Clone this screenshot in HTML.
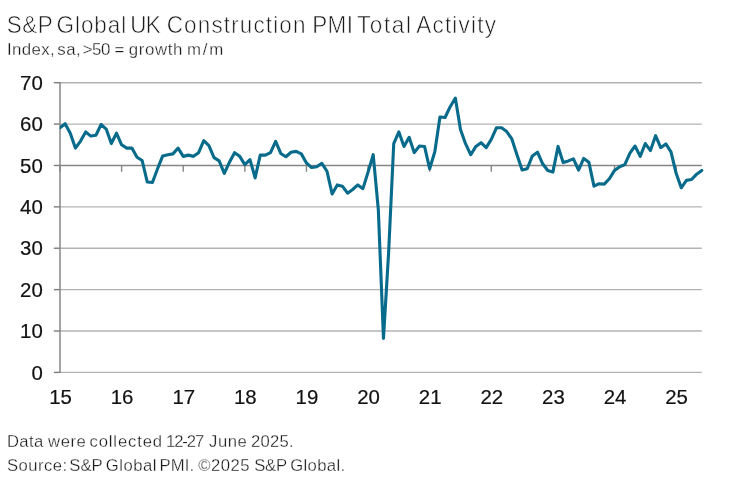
<!DOCTYPE html>
<html lang="en"><head><meta charset="utf-8"><title>S&amp;P Global UK Construction PMI Total Activity</title>
<style>
html,body{margin:0;padding:0;background:#fff;}
body{width:741px;height:486px;overflow:hidden;}
svg{display:block;}
svg text{font-family:"Liberation Sans",Arial,sans-serif;white-space:pre;}
.ax{font-size:20.4px;fill:#111;stroke:#111;stroke-width:0.2px;}
</style></head><body>
<svg width="741" height="486" viewBox="0 0 741 486">
<rect x="0" y="0" width="741" height="486" fill="#ffffff"/>
<g id="grid">
<line x1="60.0" y1="372.40" x2="701.8" y2="372.40" stroke="#b3b3b3" stroke-width="1.35"/>
<line x1="60.0" y1="331.01" x2="701.8" y2="331.01" stroke="#b3b3b3" stroke-width="1.35"/>
<line x1="60.0" y1="289.63" x2="701.8" y2="289.63" stroke="#b3b3b3" stroke-width="1.35"/>
<line x1="60.0" y1="248.24" x2="701.8" y2="248.24" stroke="#b3b3b3" stroke-width="1.35"/>
<line x1="60.0" y1="206.86" x2="701.8" y2="206.86" stroke="#b3b3b3" stroke-width="1.35"/>
<line x1="60.0" y1="124.09" x2="701.8" y2="124.09" stroke="#b3b3b3" stroke-width="1.35"/>
<line x1="60.0" y1="82.70" x2="701.8" y2="82.70" stroke="#b3b3b3" stroke-width="1.35"/>
</g><g id="axes">
<line x1="53.8" y1="372.40" x2="60.0" y2="372.40" stroke="#7c7c7c" stroke-width="1.4"/>
<line x1="53.8" y1="331.01" x2="60.0" y2="331.01" stroke="#7c7c7c" stroke-width="1.4"/>
<line x1="53.8" y1="289.63" x2="60.0" y2="289.63" stroke="#7c7c7c" stroke-width="1.4"/>
<line x1="53.8" y1="248.24" x2="60.0" y2="248.24" stroke="#7c7c7c" stroke-width="1.4"/>
<line x1="53.8" y1="206.86" x2="60.0" y2="206.86" stroke="#7c7c7c" stroke-width="1.4"/>
<line x1="53.8" y1="165.47" x2="60.0" y2="165.47" stroke="#7c7c7c" stroke-width="1.4"/>
<line x1="53.8" y1="124.09" x2="60.0" y2="124.09" stroke="#7c7c7c" stroke-width="1.4"/>
<line x1="53.8" y1="82.70" x2="60.0" y2="82.70" stroke="#7c7c7c" stroke-width="1.4"/>
<line x1="60.0" y1="82.10" x2="60.0" y2="373.00" stroke="#868686" stroke-width="1.5"/>
<line x1="60.0" y1="165.47" x2="701.8" y2="165.47" stroke="#868686" stroke-width="1.4"/>
<line x1="60.00" y1="165.47" x2="60.00" y2="171.77" stroke="#868686" stroke-width="1.4"/>
<line x1="121.61" y1="165.47" x2="121.61" y2="171.77" stroke="#868686" stroke-width="1.4"/>
<line x1="183.23" y1="165.47" x2="183.23" y2="171.77" stroke="#868686" stroke-width="1.4"/>
<line x1="244.84" y1="165.47" x2="244.84" y2="171.77" stroke="#868686" stroke-width="1.4"/>
<line x1="306.45" y1="165.47" x2="306.45" y2="171.77" stroke="#868686" stroke-width="1.4"/>
<line x1="368.06" y1="165.47" x2="368.06" y2="171.77" stroke="#868686" stroke-width="1.4"/>
<line x1="429.68" y1="165.47" x2="429.68" y2="171.77" stroke="#868686" stroke-width="1.4"/>
<line x1="491.29" y1="165.47" x2="491.29" y2="171.77" stroke="#868686" stroke-width="1.4"/>
<line x1="552.90" y1="165.47" x2="552.90" y2="171.77" stroke="#868686" stroke-width="1.4"/>
<line x1="614.52" y1="165.47" x2="614.52" y2="171.77" stroke="#868686" stroke-width="1.4"/>
<line x1="676.13" y1="165.47" x2="676.13" y2="171.77" stroke="#868686" stroke-width="1.4"/>
</g>
<defs><clipPath id="plotclip"><rect x="59.7" y="60" width="700" height="330"/></clipPath></defs>
<polyline id="series" clip-path="url(#plotclip)" points="60.00,127.81 65.13,123.67 70.27,133.19 75.40,148.09 80.54,141.05 85.67,131.95 90.81,136.09 95.94,135.26 101.08,124.50 106.21,129.05 111.34,143.54 116.48,133.19 121.61,144.78 126.75,148.09 131.88,148.09 137.02,157.19 142.15,160.51 147.28,182.03 152.42,182.44 157.55,168.78 162.69,155.95 167.82,154.71 172.96,153.88 178.09,148.09 183.23,156.37 188.36,155.12 193.49,156.37 198.63,152.64 203.76,140.64 208.90,145.61 214.03,157.61 219.17,160.92 224.30,173.33 229.44,162.16 234.57,152.64 239.70,156.37 244.84,164.64 249.97,159.68 255.11,177.89 260.24,155.12 265.38,155.12 270.51,152.64 275.64,141.47 280.78,153.47 285.91,156.78 291.05,152.23 296.18,151.40 301.32,153.88 306.45,162.99 311.59,167.54 316.72,166.71 321.85,163.40 326.99,171.27 332.12,194.03 337.26,184.92 342.39,186.16 347.53,193.20 352.66,189.48 357.80,184.92 362.93,188.65 368.06,172.09 373.20,154.71 378.33,209.75 383.47,338.46 388.60,252.80 393.74,143.54 398.87,131.95 404.00,146.43 409.14,137.33 414.27,152.64 419.41,146.02 424.54,146.43 429.68,168.78 434.81,151.81 439.95,117.05 445.08,117.46 450.21,106.70 455.35,98.01 460.48,129.47 465.62,143.95 470.75,154.71 475.89,146.43 481.02,142.71 486.16,147.68 491.29,139.40 496.42,127.81 501.56,127.81 506.69,131.54 511.83,138.98 516.96,154.71 522.10,170.02 527.23,168.78 532.36,155.95 537.50,152.23 542.63,163.82 547.77,170.44 552.90,172.09 558.04,146.43 563.17,162.57 568.31,160.92 573.44,158.85 578.57,170.02 583.71,158.44 588.84,162.16 593.98,186.16 599.11,183.68 604.25,184.09 609.38,178.71 614.52,170.44 619.65,166.71 624.78,164.64 629.92,153.06 635.05,146.02 640.19,156.37 645.32,143.54 650.46,150.57 655.59,135.67 660.72,147.68 665.86,143.95 670.99,151.81 676.13,173.33 681.26,187.82 686.40,180.37 691.53,179.54 696.67,174.16 701.80,170.44" fill="none" stroke="#086b8b" stroke-width="3.1" stroke-linejoin="round" stroke-linecap="round"/>
<g id="ylabels" class="ax" text-anchor="end">
<text x="42.8" y="379.50">0</text>
<text x="42.8" y="338.11">10</text>
<text x="42.8" y="296.73">20</text>
<text x="42.8" y="255.34">30</text>
<text x="42.8" y="213.96">40</text>
<text x="42.8" y="172.57">50</text>
<text x="42.8" y="131.19">60</text>
<text x="42.8" y="89.80">70</text>
</g><g id="xlabels" class="ax" text-anchor="middle">
<text x="60.50" y="404.4">15</text>
<text x="122.11" y="404.4">16</text>
<text x="183.73" y="404.4">17</text>
<text x="245.34" y="404.4">18</text>
<text x="306.95" y="404.4">19</text>
<text x="368.56" y="404.4">20</text>
<text x="430.18" y="404.4">21</text>
<text x="491.79" y="404.4">22</text>
<text x="553.40" y="404.4">23</text>
<text x="615.02" y="404.4">24</text>
<text x="676.63" y="404.4">25</text>
</g>
<text id="title" transform="translate(0,32.80) scale(0.95,1)" font-size="23.7" fill="#1a1a1a" stroke="#ffffff" stroke-width="0.6"><tspan x="7.17" letter-spacing="0.526">S&amp;P </tspan><tspan x="59.59" letter-spacing="0.942">Global </tspan><tspan x="137.20" letter-spacing="-0.961">UK </tspan><tspan x="175.49" letter-spacing="1.183">Construction </tspan><tspan x="328.63" letter-spacing="0.368">PMI </tspan><tspan x="375.71" letter-spacing="1.711">Total </tspan><tspan x="438.11" letter-spacing="1.271">Activity</tspan></text>
<text id="sub" transform="translate(0,54.80) scale(0.98,1)" font-size="17.2" fill="#1a1a1a" stroke="#ffffff" stroke-width="0.28"><tspan x="7.07" letter-spacing="0.372">Index, </tspan><tspan x="58.48" letter-spacing="0.441">sa, </tspan><tspan x="84.35" letter-spacing="-0.406">&gt;50 </tspan><tspan x="116.80" letter-spacing="0.000">= </tspan><tspan x="131.29" letter-spacing="0.642">growth </tspan><tspan x="190.79" letter-spacing="1.796">m/m</tspan></text>
<text id="f1" transform="translate(0,447.30) scale(0.98,1)" font-size="17.0" fill="#1a1a1a" stroke="#ffffff" stroke-width="0.28"><tspan x="7.07" letter-spacing="0.405">Data </tspan><tspan x="49.08" letter-spacing="0.551">were </tspan><tspan x="91.29" letter-spacing="0.874">collected </tspan><tspan x="169.36" letter-spacing="-1.129">12-27 </tspan><tspan x="213.32" letter-spacing="0.551">June </tspan><tspan x="256.09" letter-spacing="0.244">2025.</tspan></text>
<text id="f2" transform="translate(0,470.90) scale(0.98,1)" font-size="17.0" fill="#1a1a1a" stroke="#ffffff" stroke-width="0.28"><tspan x="7.21" letter-spacing="0.455">Source: </tspan><tspan x="70.78" letter-spacing="-0.003">S&amp;P </tspan><tspan x="107.82" letter-spacing="0.550">Global </tspan><tspan x="162.84" letter-spacing="0.065">PMI. </tspan><tspan x="202.40" letter-spacing="0.494">©2025 </tspan><tspan x="259.35" letter-spacing="-0.156">S&amp;P </tspan><tspan x="296.19" letter-spacing="0.362">Global.</tspan></text>
</svg>
</body></html>
